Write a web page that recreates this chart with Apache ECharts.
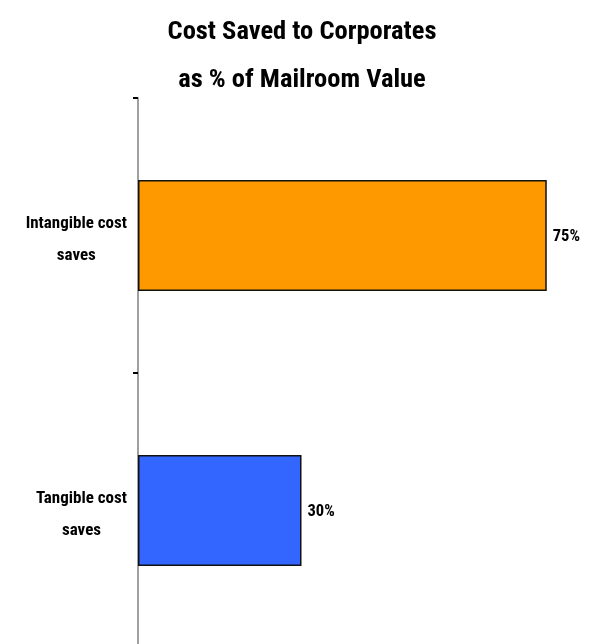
<!DOCTYPE html>
<html>
<head>
<meta charset="utf-8">
<script src="https://cdn.jsdelivr.net/npm/echarts@6/dist/echarts.min.js"></script>
<style>html,body{margin:0;padding:0;background:#fff;}#c{width:589px;height:644px;}</style>
</head>
<body>
<div id="c"></div>
<script>
var categories = ['Intangible cost\nsaves', 'Tangible cost\nsaves'];
var values = [75, 30];
var colors = ['#FF9900', '#3366FF'];
var titleText = 'Cost Saved to Corporates\nas % of Mailroom Value';

var FONT = '"Roboto Condensed", "Liberation Sans Narrow", sans-serif';
var chart = echarts.init(document.getElementById('c'));
chart.setOption({
  animation: false,
  backgroundColor: '#fff',
  title: {
    text: titleText,
    left: 297, top: 3, textAlign: 'center',
    textStyle: { fontFamily: FONT, fontWeight: 'bold', fontSize: 26.5, lineHeight: 48, color: '#000' }
  },
  grid: { left: 138, top: 98, right: 15, height: 550, outerBoundsMode: 'none', containLabel: false },
  xAxis: { type: 'value', min: 0, max: 80, show: false },
  yAxis: {
    type: 'category', inverse: true, data: categories,
    axisLine: { show: true, lineStyle: { color: '#808080', width: 1.5 } },
    axisTick: { show: true, length: 5, lineStyle: { color: '#000', width: 2 } },
    axisLabel: {
      margin: 11, align: 'right', padding: [8, 0, 0, 0],
      formatter: function (v) { return v.split('\n').map(function (s) { return '{a|' + s + '}'; }).join('\n'); },
      rich: { a: { align: 'center', fontFamily: FONT, fontWeight: 'bold', fontSize: 17, lineHeight: 32, color: '#000' } }
    }
  },
  series: [{
    type: 'bar', barWidth: 111,
    data: values.map(function (v, i) { return { value: v, itemStyle: { color: colors[i] } }; }),
    itemStyle: { borderColor: '#111', borderWidth: 1.5 },
    label: { show: true, position: 'right', distance: 6, offset: [0, 1], formatter: '{c}%', fontFamily: FONT, fontWeight: 'bold', fontSize: 16.5, color: '#000' }
  }]
});
</script>
</body>
</html>
